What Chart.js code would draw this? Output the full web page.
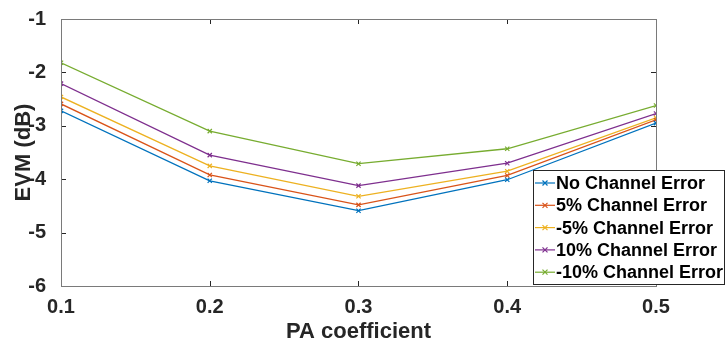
<!DOCTYPE html>
<html>
<head>
<meta charset="utf-8">
<script src="https://cdn.jsdelivr.net/npm/chart.js@4"></script>
<style>
    html, body { margin: 0; padding: 0; background: #ffffff; }
    #wrap { width: 725px; height: 345px; position: relative; }
</style>
</head>
<body>
<div id="wrap"><canvas id="evmChart" width="725" height="345"></canvas></div>
<script>
/* ==========================================
   EVM vs PA coefficient
   ========================================== */

// ค่าแกน X
const paCoefficient = [0.1, 0.2, 0.3, 0.4, 0.5];

// ค่า EVM (dB) แต่ละกรณี
const noError = [-2.72, -4.03, -4.59, -4.01, -2.95];
const plus5 = [-2.59, -3.92, -4.48, -3.93, -2.89];
const minus5 = [-2.46, -3.75, -4.32, -3.85, -2.85];
const plus10 = [-2.21, -3.55, -4.12, -3.70, -2.77];
const minus10 = [-1.82, -3.10, -3.71, -3.43, -2.62];

const seriesLabels = [
    "No Channel Error",
    "5% Channel Error",
    "-5% Channel Error",
    "10% Channel Error",
    "-10% Channel Error"
];
const seriesValues = [noError, plus5, minus5, plus10, minus10];
const seriesColors = ["#0072BD", "#D95319", "#EDB120", "#7E2F8E", "#77AC30"];

const FONT = "'Liberation Sans', Arial, sans-serif";
const AXIS_COLOR = "#262626";

// กรอบและขีด tick ด้านใน แบบ MATLAB
const boxPlugin = {
    id: "boxPlugin",
    afterDraw(chart) {
        const { ctx, chartArea: a, scales } = chart;
        ctx.save();
        ctx.strokeStyle = AXIS_COLOR;
        ctx.lineWidth = 1;
        ctx.beginPath();
        scales.x.ticks.forEach(t => {
            const px = Math.round(scales.x.getPixelForValue(t.value)) + 0.5;
            ctx.moveTo(px, a.bottom); ctx.lineTo(px, a.bottom - 5);
            ctx.moveTo(px, a.top); ctx.lineTo(px, a.top + 5);
        });
        scales.y.ticks.forEach(t => {
            const py = Math.round(scales.y.getPixelForValue(t.value)) + 0.5;
            ctx.moveTo(a.left, py); ctx.lineTo(a.left + 5, py);
            ctx.moveTo(a.right, py); ctx.lineTo(a.right - 5, py);
        });
        ctx.stroke();
        ctx.strokeStyle = "#7a7a7a";
        ctx.strokeRect(Math.round(a.left) + 0.5, Math.round(a.top) + 0.5,
            Math.round(a.right - a.left), Math.round(a.bottom - a.top));
        ctx.restore();
    }
};

// legend เอง (มุมขวาล่าง)
const legendPlugin = {
    id: "legendPlugin",
    afterDraw(chart) {
        const ctx = chart.ctx;
        const x0 = 533, y0 = 170, w = 191, h = 114;
        ctx.save();
        ctx.fillStyle = "#ffffff";
        ctx.fillRect(x0, y0, w, h);
        ctx.strokeStyle = "#262626";
        ctx.lineWidth = 1;
        ctx.strokeRect(x0 + 0.5, y0 + 0.5, w, h);
        ctx.font = "bold 18px " + FONT;
        ctx.textBaseline = "middle";
        chart.data.datasets.forEach((ds, i) => {
            const y = y0 + 13 + i * 22.3;
            ctx.strokeStyle = ds.borderColor;
            ctx.lineWidth = 1.2;
            ctx.beginPath();
            ctx.moveTo(x0 + 2, y); ctx.lineTo(x0 + 22, y);
            ctx.stroke();
            ctx.beginPath();
            ctx.moveTo(x0 + 9.5, y - 2.5); ctx.lineTo(x0 + 14.5, y + 2.5);
            ctx.moveTo(x0 + 9.5, y + 2.5); ctx.lineTo(x0 + 14.5, y - 2.5);
            ctx.stroke();
            ctx.fillStyle = "#000000";
            ctx.fillText(ds.label, x0 + 23, y + 1);
        });
        ctx.restore();
    }
};

document.addEventListener("DOMContentLoaded", function () {

    const datasets = seriesValues.map((vals, i) => ({
        label: seriesLabels[i],
        data: paCoefficient.map((x, j) => ({ x: x, y: vals[j] })),
        borderColor: seriesColors[i],
        backgroundColor: seriesColors[i],
        borderWidth: 1.3,
        pointStyle: "crossRot",
        pointRadius: 3,
        pointBorderWidth: 1.2,
        tension: 0
    }));

    new Chart(document.getElementById("evmChart"), {
        type: "line",
        data: { datasets: datasets },
        options: {
            responsive: false,
            animation: false,
            layout: { padding: { top: 15, right: 69, left: 0, bottom: 0 } },
            plugins: {
                legend: { display: false },
                tooltip: { enabled: false }
            },
            scales: {
                x: {
                    type: "linear",
                    min: 0.1,
                    max: 0.5,
                    grid: { display: false },
                    border: { display: false },
                    ticks: {
                        stepSize: 0.1,
                        color: AXIS_COLOR,
                        padding: 1,
                        font: { family: FONT, size: 20, weight: "bold" },
                        callback: v => v.toFixed(1)
                    },
                    title: {
                        display: true,
                        text: "PA coefficient",
                        color: AXIS_COLOR,
                        padding: { top: 0, bottom: 0 },
                        font: { family: FONT, size: 22, weight: "bold" }
                    },
                    afterFit(scale) { scale.height = 59; }
                },
                y: {
                    min: -6,
                    max: -1,
                    grid: { display: false },
                    border: { display: false },
                    ticks: {
                        stepSize: 1,
                        color: AXIS_COLOR,
                        padding: 7,
                        font: { family: FONT, size: 20, weight: "bold" }
                    },
                    title: {
                        display: true,
                        text: "EVM (dB)",
                        color: AXIS_COLOR,
                        padding: { top: 11, bottom: 0 },
                        font: { family: FONT, size: 22, weight: "bold" }
                    },
                    afterFit(scale) { scale.width = 61; }
                }
            }
        },
        plugins: [boxPlugin, legendPlugin]
    });
});
</script>
</body>
</html>
